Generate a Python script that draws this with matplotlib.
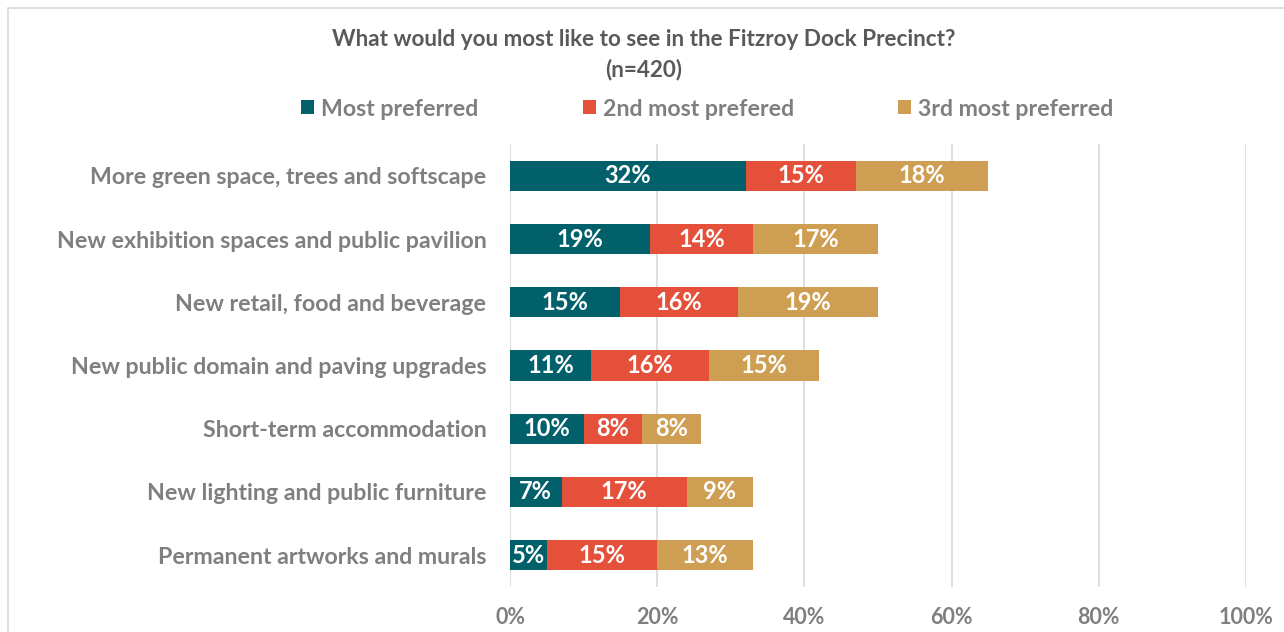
import matplotlib
matplotlib.use("Agg")
import matplotlib.pyplot as plt
from matplotlib.patches import Rectangle
import numpy as np

plt.rcParams['font.family'] = ['Lato', 'DejaVu Sans']

categories = [
    "More green space, trees and softscape",
    "New exhibition spaces and public pavilion",
    "New retail, food and beverage",
    "New public domain and paving upgrades",
    "Short-term accommodation",
    "New lighting and public furniture",
    "Permanent artworks and murals",
]
series_names = ["Most preferred", "2nd most prefered", "3rd most preferred"]
most_preferred = [32, 19, 15, 11, 10, 7, 5]
second_preferred = [15, 14, 16, 16, 8, 17, 15]
third_preferred = [18, 17, 19, 15, 8, 9, 13]
x_ticks = [0, 20, 40, 60, 80, 100]

colors = ["#02606B", "#E5503A", "#CE9E52"]
label_gray = "#7F7F7F"
title_gray = "#595959"

fig = plt.figure(figsize=(12.84, 6.32), dpi=100)
W, H = 1284, 632

# chart frame (light border)
fig.patches.append(Rectangle((8 / W, -0.1), 1.2, 1 - 8 / H + 0.1,
                             transform=fig.transFigure, fill=False,
                             edgecolor="#D9D9D9", linewidth=1.2))

ax = fig.add_axes([510 / W, 1 - 586.6 / H, 736 / W, 442.2 / H])

y = np.arange(len(categories))
series = [most_preferred, second_preferred, third_preferred]
left = np.zeros(len(categories))
for vals, color, name in zip(series, colors, series_names):
    vals = np.array(vals, dtype=float)
    ax.barh(y, vals, left=left, height=0.475, color=color,
            label=name, zorder=3)
    for yi, l, v in zip(y, left, vals):
        ax.text(l + v / 2, yi, f"{int(v)}%", ha="center", va="center",
                color="white", fontsize=17, fontweight="bold", zorder=4)
    left += vals

ax.set_xlim(0, 100)
ax.set_ylim(len(categories) - 0.5, -0.5)
ax.set_xticks(x_ticks)
ax.set_xticklabels([f"{t}%" for t in x_ticks], color=label_gray,
                   fontsize=15.5, fontweight="bold")
ax.set_yticks(y)
ax.set_yticklabels(categories, color=label_gray, fontsize=16.7,
                   fontweight="bold")
ax.tick_params(axis="both", length=0)
ax.tick_params(axis="x", pad=15)
ax.tick_params(axis="y", pad=17)
ax.grid(axis="x", color="#D9D9D9", linewidth=1.2, zorder=0)
for s in ax.spines.values():
    s.set_visible(False)

fig.text(644 / W, 1 - 40 / H, "What would you most like to see in the Fitzroy Dock Precinct?",
         ha="center", va="center", fontsize=16.2, fontweight="bold", color=title_gray)
fig.text(644 / W, 1 - 70 / H, "(n=420)", ha="center", va="center",
         fontsize=16.2, fontweight="bold", color=title_gray)

handles, labels = ax.get_legend_handles_labels()
fig.legend(handles, labels, loc="center", bbox_to_anchor=(707.5 / W, 1 - 109 / H),
           ncol=3, frameon=False, handlelength=0.56,
           handleheight=0.56, handletextpad=0.3, columnspacing=4.5,
           labelcolor=label_gray, prop={"weight": "bold", "size": 16.7})

fig.savefig("out.png", dpi=100)
